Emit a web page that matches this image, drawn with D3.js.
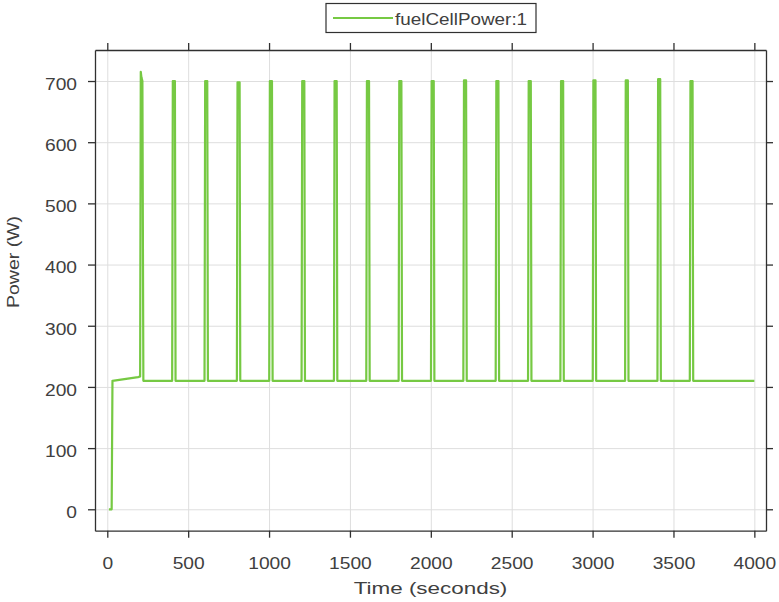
<!DOCTYPE html>
<html>
<head>
<meta charset="utf-8">
<script src="https://cdn.jsdelivr.net/npm/d3@7"></script>
<style>
  body { margin: 0; background: #fff; }
  text { font-family: "Liberation Sans", Arial, sans-serif; fill: #404040; }
</style>
</head>
<body>
<div id="chart"></div>
<script>
// fuel cell power trace (seconds, watts)
const timeSec = [
  10, 27, 32, 190, 203, 207, 211, 217, 223,
  401, 405, 418, 422,
  601, 605, 618, 622,
  801, 805, 818, 822,
  1001, 1005, 1018, 1022,
  1201, 1205, 1218, 1222,
  1401, 1405, 1418, 1422,
  1601, 1605, 1618, 1622,
  1801, 1805, 1818, 1822,
  2001, 2005, 2018, 2022,
  2201, 2205, 2218, 2222,
  2401, 2405, 2418, 2422,
  2601, 2605, 2618, 2622,
  2801, 2805, 2818, 2822,
  3001, 3005, 3018, 3022,
  3201, 3205, 3218, 3222,
  3401, 3405, 3418, 3422,
  3601, 3605, 3618, 3622,
  4000
];
const powerW = [
  0, 0, 210, 216, 217, 715, 706, 700, 210,
  210, 700, 700, 210,
  210, 700, 700, 210,
  210, 698, 698, 210,
  210, 700, 700, 210,
  210, 700, 700, 210,
  210, 700, 700, 210,
  210, 700, 700, 210,
  210, 700, 700, 210,
  210, 700, 700, 210,
  210, 701, 701, 210,
  210, 700, 700, 210,
  210, 700, 700, 210,
  210, 700, 700, 210,
  210, 701, 701, 210,
  210, 701, 701, 210,
  210, 703, 703, 210,
  210, 700, 700, 210,
  210
];
const xTicks = [0, 500, 1000, 1500, 2000, 2500, 3000, 3500, 4000];
const yTicks = [0, 100, 200, 300, 400, 500, 600, 700];
const seriesName = "fuelCellPower:1";

const width = 779;
const height = 602;
const plotLeft = 95, plotRight = 766, plotTop = 50, plotBottom = 530.7;
const lineColor = "#76c943";
const axisColor = "#303030";
const stretch = 1.2; // wide glyphs

const svg = d3.select("#chart")
  .append("svg")
  .attr("width", width)
  .attr("height", height);

const x = d3.scaleLinear().domain([-76, 4072]).range([plotLeft, plotRight]);
const y = d3.scaleLinear().domain([-35, 750.7]).range([plotBottom, plotTop]);

// grid
svg.append("g")
  .attr("transform", `translate(0,${plotBottom})`)
  .call(d3.axisBottom(x).tickValues(xTicks).tickSize(-(plotBottom - plotTop)).tickFormat(""))
  .call(g => g.select(".domain").remove())
  .call(g => g.selectAll("line").attr("stroke", "#dedede"));
svg.append("g")
  .attr("transform", `translate(${plotLeft},0)`)
  .call(d3.axisLeft(y).tickValues(yTicks).tickSize(-(plotRight - plotLeft)).tickFormat(""))
  .call(g => g.select(".domain").remove())
  .call(g => g.selectAll("line").attr("stroke", "#dedede"));

// data line
const line = d3.line()
  .x((d, i) => x(timeSec[i]))
  .y(d => y(d));

svg.append("path")
  .datum(powerW)
  .attr("fill", "none")
  .attr("stroke", lineColor)
  .attr("stroke-width", 2.2)
  .attr("stroke-linejoin", "round")
  .attr("d", line);

// axes, ticks pointing out on all four sides
function styleAxis(g) {
  g.select(".domain").attr("stroke", axisColor).attr("stroke-width", 1.3);
  g.selectAll(".tick line").attr("stroke", axisColor).attr("stroke-width", 1.3);
  g.selectAll("text").attr("fill", "#404040").attr("font-size", 16)
    .attr("font-family", "Liberation Sans, Arial, sans-serif");
}

svg.append("g")
  .attr("transform", `translate(0,${plotBottom})`)
  .call(d3.axisBottom(x).tickValues(xTicks).tickFormat(d3.format("d")).tickSizeInner(7).tickSizeOuter(0))
  .call(styleAxis)
  .call(g => g.selectAll("text")
    .attr("y", 38).attr("dy", 0)
    .attr("transform", `scale(${stretch},1)`));

svg.append("g")
  .attr("transform", `translate(0,${plotTop})`)
  .call(d3.axisTop(x).tickValues(xTicks).tickSizeInner(7).tickSizeOuter(0).tickFormat(""))
  .call(styleAxis);

svg.append("g")
  .attr("transform", `translate(${plotLeft},0)`)
  .call(d3.axisLeft(y).tickValues(yTicks).tickFormat(d3.format("d")).tickSizeInner(7).tickSizeOuter(0))
  .call(styleAxis)
  .call(g => g.selectAll("text")
    .attr("x", -18 / stretch).attr("dy", "0.52em")
    .attr("transform", `scale(${stretch},1)`));

svg.append("g")
  .attr("transform", `translate(${plotRight},0)`)
  .call(d3.axisRight(y).tickValues(yTicks).tickSizeInner(7).tickSizeOuter(0).tickFormat(""))
  .call(styleAxis);

// axis titles
svg.append("text")
  .attr("transform", `translate(${(plotLeft + plotRight) / 2},594) scale(1.32,1)`)
  .attr("text-anchor", "middle")
  .attr("font-size", 17)
  .text("Time (seconds)");

svg.append("text")
  .attr("transform", `translate(19,262) rotate(-90) scale(1.15,1)`)
  .attr("text-anchor", "middle")
  .attr("font-size", 17)
  .text("Power (W)");

// legend
const legend = svg.append("g").attr("transform", "translate(326,3.5)");
legend.append("rect")
  .attr("width", 210).attr("height", 29)
  .attr("fill", "#fff").attr("stroke", axisColor).attr("stroke-width", 1.2);
legend.append("line")
  .attr("x1", 7).attr("x2", 67).attr("y1", 14.5).attr("y2", 14.5)
  .attr("stroke", lineColor).attr("stroke-width", 2);
legend.append("text")
  .attr("transform", "translate(69,21) scale(1.18,1)")
  .attr("font-size", 16)
  .text(seriesName);
</script>
</body>
</html>
